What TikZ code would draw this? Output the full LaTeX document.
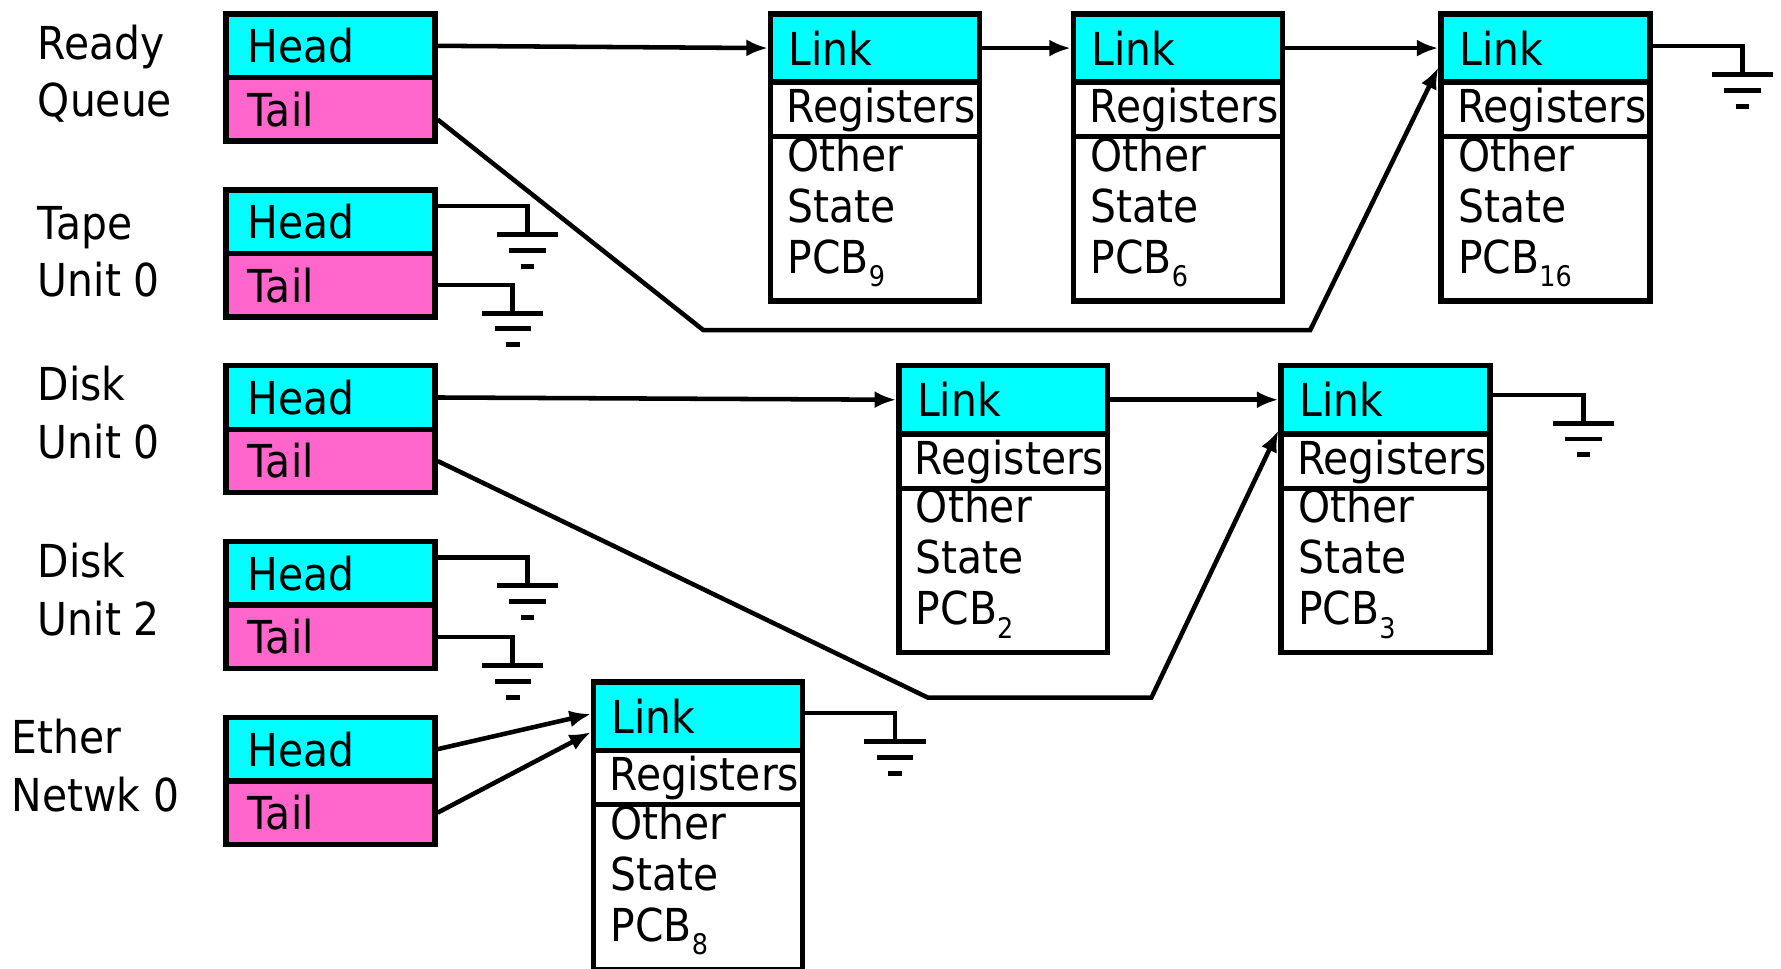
\documentclass[tikz,border=0pt]{standalone}
\usepackage{fontspec}
\setmainfont{DejaVu Sans}[FakeStretch=0.9]
\usetikzlibrary{arrows.meta}
\definecolor{cellcyan}{HTML}{00FFFF}
\definecolor{cellpink}{HTML}{FF66CC}
\newcommand\pcbsub[1]{\raisebox{-0.3em}{\fontsize{12.5}{12.5}\selectfont #1}}
\newcommand\pcbbox[4]{%
  \node[linkcell] (#1l) at (#2,#3) {Link};
  \node[regcell] (#1r) at (#2,#3+60) {};
  \begin{scope}
    \clip ([xshift=1.2pt,yshift=-1.2pt]#1r.north west) rectangle ([xshift=-1.2pt,yshift=1.2pt]#1r.south east);
    \node[regtext] (#1x) at (#2+16,#3+87) {Registers};
  \end{scope}
  \node[othcell] (#1o) at (#2,#3+108) {};
  \node[othtext] (#1t) at (#2+17,#3+110) {Other\\State\\PCB\pcbsub{#4}};
}
\newcommand\qbox[5]{% name, y, label x, label y, label
  \node[headcell] (#1H) at (197,#2) {Head};
  \node[tailcell] (#1T) at (197,#2+56) {Tail};
  \node[lbl] (#1L) at (#3,#4) {#5};
}
\newcommand\gnd[1]{%
  \draw[gndbar] ([xshift=-13.5pt]#1) -- ([xshift=13.5pt]#1);
  \draw[gndbar] ([xshift=-8pt,yshift=-7pt]#1) -- ([xshift=8pt,yshift=-7pt]#1);
  \draw[gndbar] ([xshift=-3pt,yshift=-14pt]#1) -- ([xshift=3pt,yshift=-14pt]#1);
}
\begin{document}
\begin{tikzpicture}[x=0.5pt,y=-0.5pt,
  txtfont/.style={font=\fontsize{20}{22.5}\selectfont},
  cellbase/.style={draw, line width=2.4pt, anchor=north west, align=left,
    inner ysep=0pt, txtfont},
  qcell/.style={cellbase, minimum width=92pt, text width=73pt, inner xsep=9.5pt, minimum height=28pt},
  headcell/.style={qcell, fill=cellcyan},
  tailcell/.style={qcell, fill=cellpink},
  pcell/.style={cellbase, minimum width=92pt, text width=76pt, inner xsep=8pt},
  linkcell/.style={pcell, fill=cellcyan, minimum height=30pt},
  regcell/.style={pcell, fill=white, minimum height=24pt},
  othcell/.style={pcell, fill=white, minimum height=72.5pt},
  regtext/.style={anchor=west, inner sep=0pt, txtfont},
  othtext/.style={anchor=north west, inner sep=0pt, align=left, txtfont},
  lbl/.style={anchor=west, inner sep=0pt, align=left, font=\fontsize{20}{25.5}\selectfont},
  wire/.style={line width=2pt},
  arr/.style={wire, -{Latex[length=9.5pt,width=7.5pt]}},
  gndbar/.style={line width=2.2pt}
]
\useasboundingbox (0,0) rectangle (1570,854);

% queue headers
\qbox{rq}{10}{33}{65}{Ready\\Queue}
\qbox{tq}{165}{33}{222}{Tape\\Unit 0}
\qbox{da}{320}{33}{364}{Disk\\Unit 0}
\qbox{db}{475}{33}{520}{Disk\\Unit 2}
\qbox{en}{630}{10}{675}{Ether\\Netwk 0}

% PCBs
\pcbbox{pA}{677}{10}{9}
\pcbbox{pB}{944}{10}{6}
\pcbbox{pC}{1268}{10}{16}
\pcbbox{pD}{790}{320}{2}
\pcbbox{pE}{1127}{320}{3}
\pcbbox{pF}{521}{599}{8}

% ground points and bends
\coordinate (g1) at (1536,66);
\coordinate (g2) at (465,207);
\coordinate (g3) at (452,276);
\coordinate (g4) at (1396,373);
\coordinate (g5) at (465,516);
\coordinate (g6) at (452,587);
\coordinate (g7) at (789,654);
\coordinate (b1) at (620,291);
\coordinate (b2) at (1155,291);
\coordinate (b3) at (818,615);
\coordinate (b4) at (1015,615);

% ready queue
\draw[arr] (rqH.east) -- (pAl.west);
\draw[arr] (pAl.east) -- (pBl.west);
\draw[arr] (pBl.east) -- (pCl.west);
\draw[wire] ([yshift=1pt]pCl.east) -| (g1); \gnd{g1}
\draw[arr] ([yshift=-4.5pt]rqT.east) -- (b1) -- (b2) -- ([yshift=-8.5pt]pCl.west);

% tape unit 0
\draw[wire] ([yshift=7pt]tqH.east) -| (g2); \gnd{g2}
\draw[wire] (tqT.east) -| (g3); \gnd{g3}

% disk unit 0
\draw[arr] (daH.east) -- (pDl.west);
\draw[arr] (pDl.east) -- (pEl.west);
\draw[wire] ([yshift=2pt]pEl.east) -| (g4); \gnd{g4}
\draw[arr] (daT.east) -- (b3) -- (b4) -- ([yshift=-13.5pt]pEl.west);

% disk unit 2
\draw[wire] ([yshift=7pt]dbH.east) -| (g5); \gnd{g5}
\draw[wire] (dbT.east) -| (g6); \gnd{g6}

% ether netwk 0
\draw[arr] (enH.east) -- ([yshift=1pt]pFl.west);
\draw[arr] (enT.east) -- ([yshift=-7pt]pFl.west);
\draw[wire] ([yshift=1.5pt]pFl.east) -| (g7); \gnd{g7}
\end{tikzpicture}
\end{document}
